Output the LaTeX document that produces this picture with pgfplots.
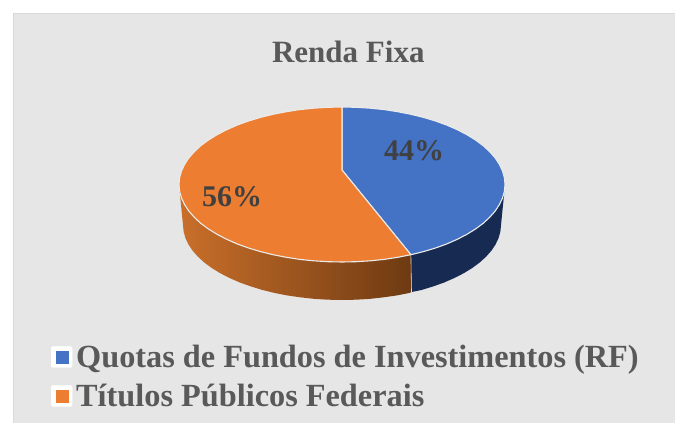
\documentclass[border=0pt]{standalone}
\usepackage{pgfplots}
\pgfplotsset{compat=1.18}
\usepackage{fontspec}
\setmainfont{Liberation Serif}
\definecolor{bgc}{HTML}{E7E6E6}
\definecolor{edgec}{HTML}{D9D9D9}
\definecolor{titlec}{HTML}{595959}
\definecolor{labelc}{HTML}{404040}
\definecolor{blueT}{HTML}{4472C4}
\definecolor{orangeT}{HTML}{ED7D31}
\definecolor{blueS}{HTML}{172B52}
\definecolor{orangeL}{HTML}{C96F2A}
\definecolor{orangeR}{HTML}{6E3A12}
\begin{document}
\begin{tikzpicture}
\begin{axis}[
    scale only axis, width=675pt, height=423pt,
    xmin=0, xmax=675, ymin=0, ymax=423, y dir=reverse,
    axis lines=none, no markers,
    title={Renda Fixa},
    title style={at={(0.516,0.864)}, anchor=center, text=titlec,
        font=\fontsize{31}{36}\selectfont\bfseries},
    legend cell align=left,
    legend style={at={(axis cs:51,344)}, anchor=north west, draw=none, fill=none,
        text=titlec, font=\fontsize{32.3}{38}\selectfont\bfseries,
        row sep=13pt, inner sep=0pt, outer sep=0pt,
        nodes={inner sep=1pt}},
]
% page and plot area
\addplot[fill=white, draw=none, forget plot] coordinates {(0,0) (675,0) (675,423) (0,423)} -- cycle;
\addplot[fill=bgc, draw=edgec, line width=1pt, forget plot] coordinates {(13,13) (690,13) (690,440) (13,440)} -- cycle;

% legend entries
\addlegendimage{legend image code/.code={
    \path[draw=none] (0pt,0pt) -- (24pt,0pt);
    \fill[white, rounded corners=2pt] (0pt,-10.5pt) rectangle (21pt,10.5pt);
    \fill[blueT] (4.5pt,-6pt) rectangle (16.5pt,6pt);}}
\addlegendentry{Quotas de Fundos de Investimentos (RF)}
\addlegendimage{legend image code/.code={
    \path[draw=none] (0pt,0pt) -- (24pt,0pt);
    \fill[white, rounded corners=2pt] (0pt,-10.5pt) rectangle (21pt,10.5pt);
    \fill[orangeT] (4.5pt,-6pt) rectangle (16.5pt,6pt);}}
\addlegendentry{Títulos Públicos Federais}

% side walls
\addplot[left color=orangeL, right color=orangeR, draw=none, forget plot] coordinates {
 (179.6,191.3) (181.5,198.0) (184.6,204.6) (188.8,211.0) (194.3,217.3) (200.8,223.3)
 (208.5,229.0) (217.1,234.3) (226.7,239.3) (237.2,243.9) (248.5,248.0) (260.5,251.6)
 (273.1,254.7) (286.3,257.3) (299.8,259.4) (313.7,260.8) (327.8,261.7) (342,262)
 (356.2,261.7) (370.3,260.8) (384.2,259.4) (397.7,257.3) (410.9,254.7)
 (411.5,292) (409.2,293) (396.4,295.5) (383.1,297.4) (369.6,298.9) (355.9,299.7) (342,300)
 (328.1,299.7) (314.4,298.9) (300.9,297.4) (287.6,295.5) (274.8,293) (262.5,290)
 (250.8,286.4) (239.8,282.5) (229.6,278) (220.2,273.2) (211.7,268) (204.3,262.5)
 (197.9,256.7) (192.6,250.7) (188.4,244.4) (185.4,238) (183.6,231.5) (183,225)
} -- cycle;
\addplot[fill=blueS, draw=none, forget plot] coordinates {
 (410.9,254.7) (423.5,251.6) (435.5,248.0) (446.8,243.9) (457.3,239.3) (466.9,234.3)
 (475.5,229.0) (483.2,223.3) (489.7,217.3) (495.2,211.0) (499.4,204.6) (502.5,198.0) (504.4,191.3)
 (501,225) (500.4,231.5) (498.6,238.0) (495.6,244.4) (491.4,250.7) (486.1,256.7)
 (479.7,262.5) (472.3,268.0) (463.8,273.2) (454.4,278.0) (444.2,282.5) (433.2,286.4)
 (421.5,290.0) (411.5,292)
} -- cycle;
\addplot[white!75!gray, line width=0.6pt, forget plot] coordinates {(410.9,254.7) (411.5,292)};

% top faces, 44% and 56%
\addplot[fill=blueT, draw=white!92!black, line width=1.1pt, line join=round, forget plot] coordinates {
 (342,170) (342,107) (356.2,107.3) (370.3,108.2) (384.2,109.6) (397.7,111.7) (410.9,114.3)
 (423.5,117.4) (435.5,121.0) (446.8,125.1) (457.3,129.7) (466.9,134.7) (475.5,140.0)
 (483.2,145.7) (489.7,151.7) (495.2,158.0) (499.4,164.4) (502.5,171.0) (504.4,177.7)
 (505,184.5) (504.4,191.3) (502.5,198.0) (499.4,204.6) (495.2,211.0) (489.7,217.3)
 (483.2,223.3) (475.5,229.0) (466.9,234.3) (457.3,239.3) (446.8,243.9) (435.5,248.0)
 (423.5,251.6) (410.9,254.7)
} -- cycle;
\addplot[fill=orangeT, draw=white!92!black, line width=1.1pt, line join=round, forget plot] coordinates {
 (342,170) (410.9,254.7) (397.7,257.3) (384.2,259.4) (370.3,260.8) (356.2,261.7) (342,262)
 (327.8,261.7) (313.7,260.8) (299.8,259.4) (286.3,257.3) (273.1,254.7) (260.5,251.6)
 (248.5,248.0) (237.2,243.9) (226.7,239.3) (217.1,234.3) (208.5,229.0) (200.8,223.3)
 (194.3,217.3) (188.8,211.0) (184.6,204.6) (181.5,198.0) (179.6,191.3) (179,184.5)
 (179.6,177.7) (181.5,171.0) (184.6,164.4) (188.8,158.0) (194.3,151.7) (200.8,145.7)
 (208.5,140.0) (217.1,134.7) (226.7,129.7) (237.2,125.1) (248.5,121.0) (260.5,117.4)
 (273.1,114.3) (286.3,111.7) (299.8,109.6) (313.7,108.2) (327.8,107.3) (342,107)
} -- cycle;

% data labels
\node[text=labelc, font=\fontsize{30}{36}\selectfont\bfseries] at (axis cs:414,150.5) {44\%};
\node[text=labelc, font=\fontsize{30}{36}\selectfont\bfseries] at (axis cs:232,196.5) {56\%};
\end{axis}
\end{tikzpicture}
\end{document}
